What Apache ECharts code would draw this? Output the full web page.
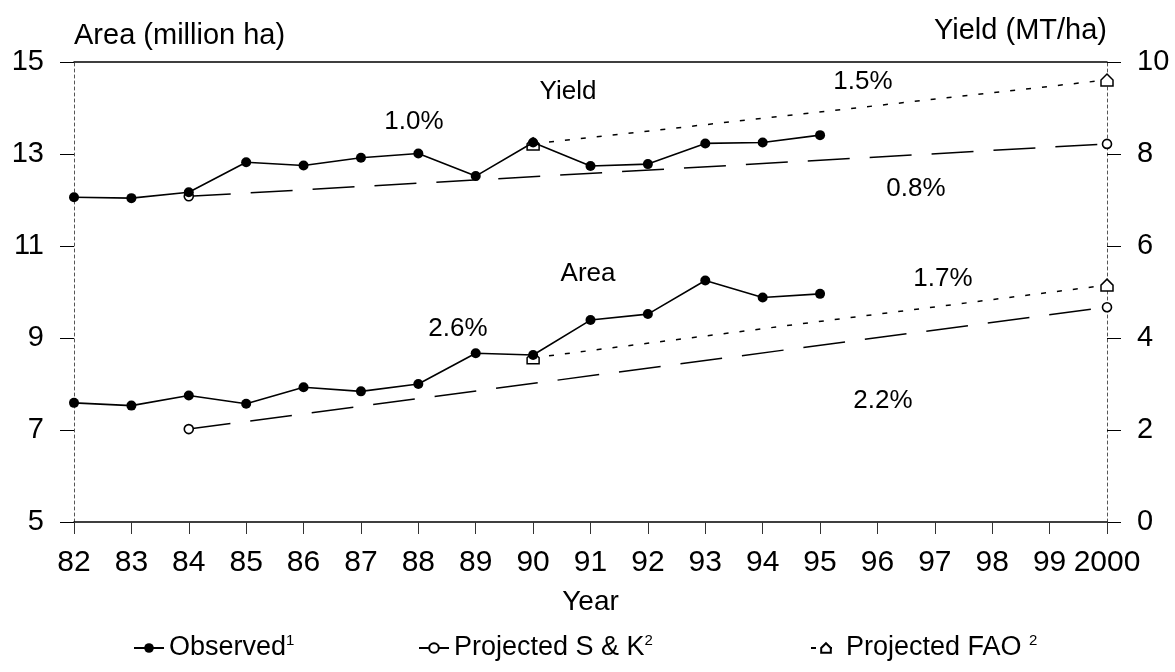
<!DOCTYPE html>
<html>
<head>
<meta charset="utf-8">
<script src="https://cdn.jsdelivr.net/npm/echarts@6/dist/echarts.min.js"></script>
<style>
  html, body { margin: 0; padding: 0; background: #fff; }
  #chart { width: 1175px; height: 672px; }
</style>
</head>
<body>
<div id="chart"></div>
<script>
// ---- data ----
const years = ['82','83','84','85','86','87','88','89','90','91','92','93','94','95','96','97','98','99','2000'];
const areaObserved  = [7.59, 7.53, 7.75, 7.57, 7.93, 7.84, 8.00, 8.67, 8.63, 9.39, 9.52, 10.25, 9.88, 9.96];
const yieldObserved = [7.06, 7.04, 7.17, 7.82, 7.75, 7.92, 8.01, 7.52, 8.25, 7.74, 7.78, 8.23, 8.25, 8.41];
const skYears  = ['84', '2000'];
const areaSK   = [7.02, 9.67];
const yieldSK  = [7.08, 8.22];
const faoYears = ['90', '2000'];
const areaFAO  = [8.57, 10.15];
const yieldFAO = [8.22, 9.61];
const leftTicks = { min: 5, max: 15, interval: 2 };
const rightTicks = { min: 0, max: 10, interval: 2 };

const FONT = '"Liberation Sans", Arial, Helvetica, sans-serif';
const pairs = (xs, vs) => xs.map((x, i) => [x, vs[i]]);
const houseSym = 'path://M5,0 L10,5 L10,10 L0,10 L0,5 Z';
const gearSym = 'path://M5,0 L5,10 M0,5 L10,5 M5,1.5 A3.5,3.5 0 1 1 4.99,1.5 Z';

const chart = echarts.init(document.getElementById('chart'), null, { renderer: 'canvas' });

const obsStyle = {
  type: 'line', name: 'Observed', symbol: 'circle', symbolSize: 10, z: 5,
  itemStyle: { color: '#000' },
  lineStyle: { color: '#000', width: 1.6 }
};
const skStyle = {
  type: 'line', name: 'Projected S & K', symbol: 'circle', symbolSize: 9, z: 3,
  itemStyle: { color: '#fff', borderColor: '#000', borderWidth: 1.6 },
  lineStyle: { color: '#000', width: 1.5, type: [42, 20] }
};
const faoStyle = {
  type: 'line', name: 'Projected FAO', symbol: houseSym, symbolSize: 12, z: 3,
  itemStyle: { color: '#fff', borderColor: '#000', borderWidth: 1.5 },
  lineStyle: { color: '#000', width: 1.5, type: [5, 11] }
};

const supMap = { 'Observed': '{sup|1}', 'Projected S & K': '{sup|2}', 'Projected FAO': ' {sup|2}' };
const legendBase = {
  itemWidth: 30, itemHeight: 12, itemGap: 5, top: 628,
  formatter: n => n + supMap[n],
  textStyle: {
    fontFamily: FONT, fontSize: 27, color: '#000',
    rich: { sup: { fontFamily: FONT, fontSize: 15, color: '#000', verticalAlign: 'top', lineHeight: 30, padding: [0, 0, 14, 0] } }
  }
};

const annotations = [
  { t: '1.0%', x: 414, y: 122 },
  { t: 'Yield', x: 568, y: 92 },
  { t: '1.5%', x: 863, y: 82 },
  { t: '0.8%', x: 916, y: 189 },
  { t: 'Area', x: 588, y: 274 },
  { t: '1.7%', x: 943, y: 279 },
  { t: '2.6%', x: 458, y: 329 },
  { t: '2.2%', x: 883, y: 401 }
];

chart.setOption({
  animation: false,
  backgroundColor: '#fff',
  textStyle: { fontFamily: FONT },
  grid: { left: 74, right: 68, top: 62, bottom: 150 },
  legend: [
    Object.assign({}, legendBase, { data: ['Observed'], left: 128 }),
    Object.assign({}, legendBase, { data: ['Projected S & K'], left: 413 }),
    Object.assign({}, legendBase, { data: ['Projected FAO'], left: 805 })
  ],
  xAxis: [
    {
      type: 'category', data: years, boundaryGap: false, position: 'bottom',
      axisLine: { lineStyle: { color: '#000', width: 1.5 } },
      axisTick: { show: true, length: 12, inside: false, lineStyle: { color: '#333', width: 1 } },
      axisLabel: { fontFamily: FONT, fontSize: 30, color: '#000', margin: 26, interval: 0 },
      name: 'Year', nameLocation: 'middle', nameGap: 66,
      nameTextStyle: { fontFamily: FONT, fontSize: 28, color: '#000' },
      splitLine: { show: false }
    },
    {
      type: 'category', data: years, boundaryGap: false, position: 'top',
      axisLine: { lineStyle: { color: '#000', width: 1.5 } },
      axisTick: { show: false }, axisLabel: { show: false }, splitLine: { show: false }
    }
  ],
  yAxis: [
    {
      type: 'value', position: 'left', min: leftTicks.min, max: leftTicks.max, interval: leftTicks.interval,
      axisLine: { show: true, lineStyle: { color: '#555', width: 1, type: [3, 3] } },
      axisTick: { show: true, length: 14, lineStyle: { color: '#000', width: 1 } },
      axisLabel: { fontFamily: FONT, fontSize: 29, color: '#000', margin: 30 },
      splitLine: { show: false },
      name: 'Area (million ha)', nameLocation: 'end', nameGap: 26,
      nameTextStyle: { fontFamily: FONT, fontSize: 29, color: '#000', align: 'left', verticalAlign: 'middle' }
    },
    {
      type: 'value', position: 'right', min: rightTicks.min, max: rightTicks.max, interval: rightTicks.interval,
      axisLine: { show: true, lineStyle: { color: '#555', width: 1, type: [3, 3] } },
      axisTick: { show: true, length: 14, lineStyle: { color: '#000', width: 1 } },
      axisLabel: { fontFamily: FONT, fontSize: 29, color: '#000', margin: 30 },
      splitLine: { show: false },
      name: 'Yield (MT/ha)', nameLocation: 'end', nameGap: 31,
      nameTextStyle: { fontFamily: FONT, fontSize: 29, color: '#000', align: 'right', verticalAlign: 'middle' }
    }
  ],
  series: [
    Object.assign({}, skStyle, { yAxisIndex: 0, data: pairs(skYears, areaSK) }),
    Object.assign({}, skStyle, { yAxisIndex: 1, data: pairs(skYears, yieldSK) }),
    Object.assign({}, faoStyle, { yAxisIndex: 0, data: pairs(faoYears, areaFAO) }),
    Object.assign({}, faoStyle, { yAxisIndex: 1, data: pairs(faoYears, yieldFAO) }),
    Object.assign({}, obsStyle, { yAxisIndex: 0, data: areaObserved }),
    Object.assign({}, obsStyle, { yAxisIndex: 1, data: yieldObserved })
  ],
  graphic: annotations.map(a => ({
    type: 'text', x: a.x, y: a.y, z: 10,
    style: { text: a.t, fontFamily: FONT, fontSize: 26, fill: '#000', align: 'center', verticalAlign: 'middle' }
  }))
});
</script>
</body>
</html>
